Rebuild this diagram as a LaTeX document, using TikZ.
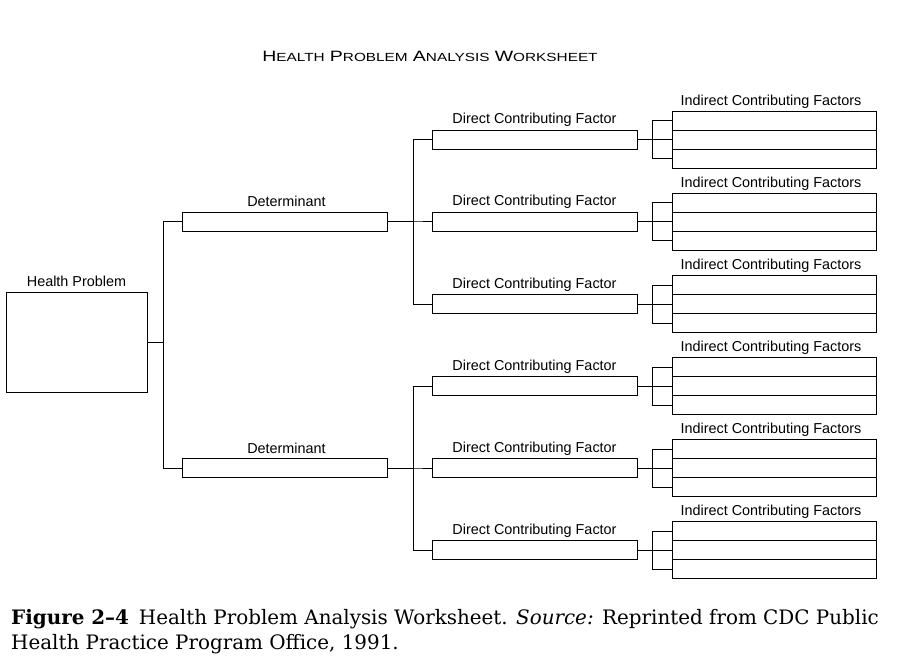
\documentclass[tikz,border=0pt]{standalone}
\usepackage{fontspec}
\setsansfont{Liberation Sans}
\newfontfamily\capfont{DejaVu Serif}
\usepackage{xcolor}
\usepackage{tikz}
\usetikzlibrary{positioning}

\newcommand{\scword}[2]{{\fontsize{15}{17}\selectfont #1}{\fontsize{11.8}{17}\selectfont #2}}

\begin{document}
\begin{tikzpicture}[
  x=1pt,
  y=-1pt,
  every node/.style={font=\sffamily\fontsize{14.4}{17}\selectfont},
  blank/.style={draw, line width=1pt, inner sep=0pt, minimum width=205pt, minimum height=19pt},
  rowbox/.style={draw, line width=1pt, inner sep=0pt, minimum width=204pt, minimum height=19pt},
  lbl/.style={anchor=base, inner sep=0pt},
  link/.style={line width=1pt},
]
\path[use as bounding box] (0,0) rectangle (913,663);

% Layout.
\def\xdet{284.5}
\def\xdcf{534.5}
\def\xind{774}

% Title.
\node[lbl] (title) at (430,61.5) {\scalebox{1.3}[1]{\scword{H}{EALTH} \scword{P}{ROBLEM} \scword{A}{NALYSIS} \scword{W}{ORKSHEET}}};

% Health problem.
\node[draw, line width=1pt, minimum width=141pt, minimum height=100pt] (hp) at (76.5,342) {};
\node[lbl] (hplab) at ([yshift=5.5pt]hp.north) {Health Problem};

% Determinants.
\node[blank] (det1) at (\xdet,222) {};
\node[blank] (det2) at (\xdet,468) {};
\node[lbl] (det1lab) at ([xshift=2pt,yshift=5pt]det1.north) {Determinant};
\node[lbl] (det2lab) at ([xshift=2pt,yshift=5pt]det2.north) {Determinant};

% Direct factors and indirect factor rows.
\foreach \k/\yy in {1/140,2/222,3/304,4/386,5/468,6/550} {
  \node[blank] (dcf\k) at (\xdcf,\yy) {};
  \node[lbl] (dcf\k lab) at ([yshift=6pt]dcf\k.north) {Direct Contributing Factor};
  \node[rowbox] (ind\k a) at (\xind,\yy-19) {};
  \node[rowbox] (ind\k b) at (\xind,\yy) {};
  \node[rowbox] (ind\k c) at (\xind,\yy+19) {};
  \node[lbl] (ind\k lab) at ([xshift=-3pt,yshift=5.5pt]ind\k a.north) {Indirect Contributing Factors};
  \draw[link] (dcf\k.east) -- (ind\k b.west);
  \draw[link] (ind\k a.west) -- ++(-19,0) |- (ind\k c.west);
}

% Tree connectors.
\draw[link] (hp.east) -- ++(16,0) |- (det1.west);
\draw[link] (hp.east) -- ++(16,0) |- (det2.west);
\foreach \k in {1,2,3} {
  \draw[link] (det1.east) -- ++(26,0) |- (dcf\k.west);
}
\foreach \k in {4,5,6} {
  \draw[link] (det2.east) -- ++(26,0) |- (dcf\k.west);
}

% Caption.
\node[lbl, anchor=base west, font=\capfont\fontsize{19.9}{24}\selectfont] (cap1) at (11,624) {\textbf{Figure 2–4}\enspace Health Problem Analysis Worksheet. \textit{Source:} Reprinted from CDC Public};
\node[lbl, anchor=base west, font=\capfont\fontsize{19.9}{24}\selectfont] (cap2) at (11,649) {Health Practice Program Office, 1991.};

\end{tikzpicture}
\end{document}
